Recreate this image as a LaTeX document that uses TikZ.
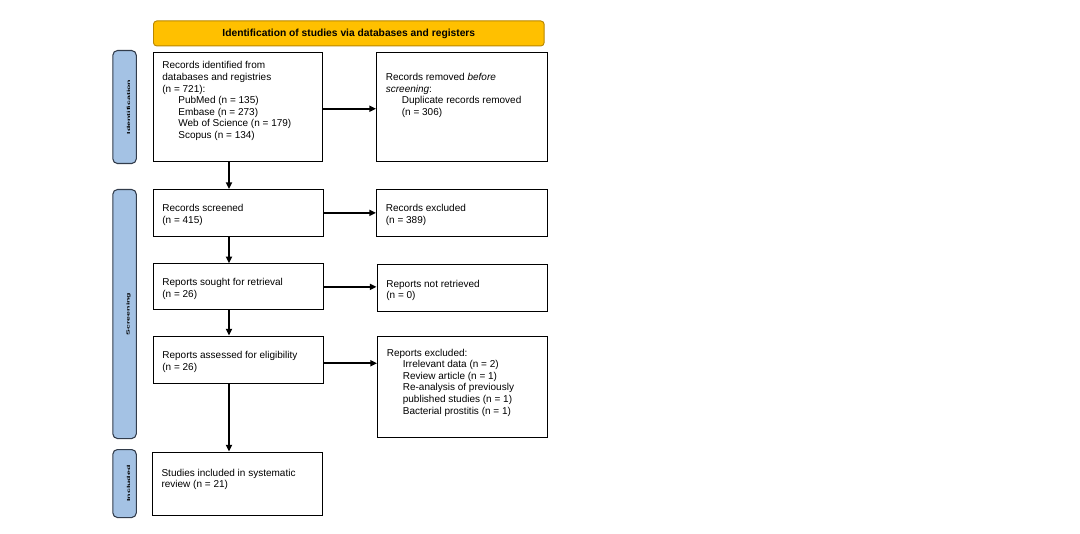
\documentclass[tikz,border=0pt]{standalone}
\usepackage{fontspec}
\setmainfont{Liberation Sans}
\usetikzlibrary{arrows.meta}
\definecolor{hdr}{RGB}{255,192,0}
\definecolor{hdrline}{RGB}{185,135,0}
\definecolor{sidebar}{RGB}{164,194,228}
\definecolor{sideline}{RGB}{50,60,75}
% box content: width px, height px, top pad pt, text
\newcommand\bx[4]{\parbox[t][\dimexpr #2pt*3/4\relax][t]{\dimexpr #1pt*3/4-14pt\relax}{\raggedright\vspace*{#3pt}#4}}
\newcommand\ind{\hspace*{12pt}}
\newcommand\sidetxt[1]{\hspace*{6pt}\rotatebox{90}{\scalebox{1}[0.5]{\fontsize{6.6}{7}\selectfont\bfseries #1}}}
\begin{document}
\begin{tikzpicture}[x=0.75pt,y=-0.75pt,
  box/.style={draw=black,line width=0.8pt,fill=white,anchor=north west,inner xsep=7pt,inner ysep=0pt,font=\fontsize{7.5}{8.7}\selectfont},
  header/.style={draw=hdrline,line width=0.7pt,fill=hdr,rounded corners=2.5pt,anchor=north west,inner sep=0pt,minimum width=293pt,minimum height=18.75pt,font=\fontsize{7.7}{9}\selectfont\bfseries},
  side/.style={draw=sideline,line width=0.8pt,fill=sidebar,rounded corners=3.5pt,anchor=north west,inner sep=0pt,minimum width=17.6pt},
  arr/.style={line width=1.35pt,-{Triangle[length=5pt,width=4.5pt]}}]
\useasboundingbox (0,0) rectangle (1080,534);
\fill[white] (0,0) rectangle (1080,534);

\node[header] (hd) at (153,20.5) {Identification of studies via databases and registers};

\node[side,minimum height=84.75pt] (s1) at (112.3,50) {\sidetxt{Identification}};
\node[side,minimum height=186.75pt] (s2) at (112.3,189) {\sidetxt{Screening}};
\node[side,minimum height=51pt] (s3) at (112.3,449) {\sidetxt{Included}};

\node[box] (a) at (152.5,52) {\bx{169.5}{109}{6.9}{Records identified from\\databases and registries\\(n = 721):\\\ind PubMed (n = 135)\\\ind Embase (n = 273)\\\ind Web of Science (n = 179)\\\ind Scopus (n = 134)}};
\node[box] (b) at (376,52) {\bx{170.5}{109}{15.5}{Records removed \textit{before}\\\textit{screening}:\\\ind Duplicate records removed\\\ind (n = 306)}};
\node[box] (c) at (152.5,189) {\bx{170}{46.7}{11}{Records screened\\(n = 415)}};
\node[box] (d) at (376,189) {\bx{170.5}{46.7}{11}{Records excluded\\(n = 389)}};
\node[box] (e) at (152.5,263.3) {\bx{170}{46}{10.8}{Reports sought for retrieval\\(n = 26)}};
\node[box] (f) at (376.5,264.3) {\bx{170}{46.7}{11.3}{Reports not retrieved\\(n = 0)}};
\node[box] (g) at (152.5,335.5) {\bx{170}{47}{11.5}{Reports assessed for eligibility\\(n = 26)}};
\node[box] (h) at (377,336) {\bx{170}{100.7}{9.3}{Reports excluded:\\\ind Irrelevant data (n = 2)\\\ind Review article (n = 1)\\\ind Re-analysis of previously\\\ind published studies (n = 1)\\\ind Bacterial prostitis (n = 1)}};
\node[box] (i) at (151.7,451.5) {\bx{170}{63.5}{12.7}{Studies included in systematic\\review (n = 21)}};

\coordinate (vx) at (229,0);
\draw[arr] (a.south -| vx) -- (c.north -| vx);
\draw[arr] (c.south -| vx) -- (e.north -| vx);
\draw[arr] (e.south -| vx) -- (g.north -| vx);
\draw[arr] (g.south -| vx) -- (i.north -| vx);

\draw[arr] ([yshift=-1.3pt]a.east) -- ([yshift=-1.3pt]a.east -| b.west);
\draw[arr] (c.east) -- (c.east -| d.west);
\draw[arr] (e.east) -- (e.east -| f.west);
\draw[arr] ([yshift=-2.8pt]g.east) -- ([yshift=-2.8pt]g.east -| h.west);
\end{tikzpicture}
\end{document}
